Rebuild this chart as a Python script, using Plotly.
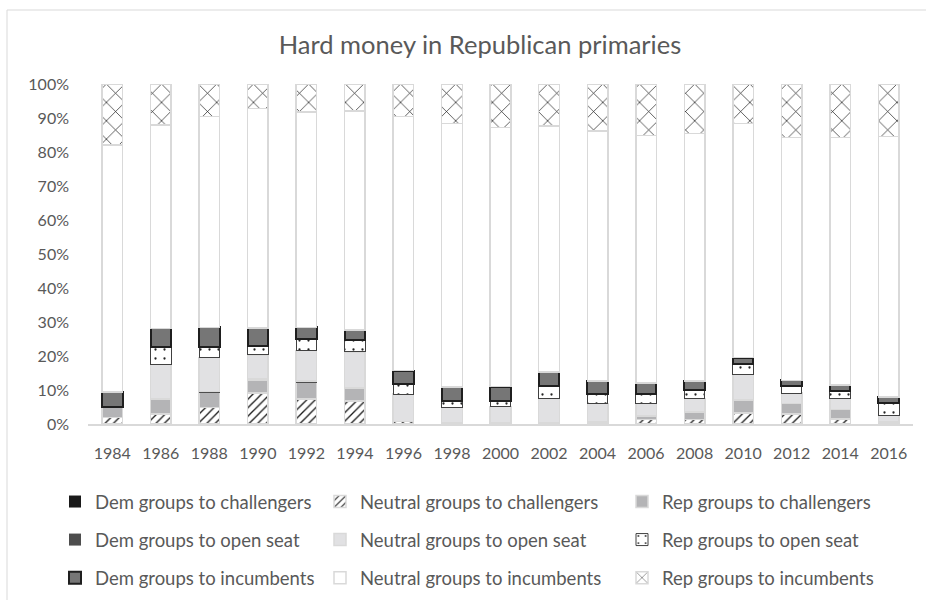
import plotly.graph_objects as go

years = ["1984", "1986", "1988", "1990", "1992", "1994", "1996", "1998", "2000",
         "2002", "2004", "2006", "2008", "2010", "2012", "2014", "2016"]

dem_chal = [0, 0, 0, 0, 0, 0, 0, 0, 0, 0, 0, 0, 0, 0, 0, 0, 0]
neu_chal = [1.9, 2.9, 4.8, 9.1, 7.3, 6.8, 0.8, 0.3, 0.3, 0.3, 0.6, 1.3, 1.3, 3.2, 3.0, 1.4, 0.6]
rep_chal = [3.1, 4.5, 4.4, 3.9, 5.0, 3.8, 0, 0, 0, 0, 0, 1.0, 2.3, 3.9, 3.1, 2.9, 0]
dem_open = [0, 0, 0.3, 0.3, 0.3, 0, 0, 0, 0, 0, 0, 0, 0, 0, 0, 0, 0]
neu_open = [0, 10.1, 10.0, 7.0, 9.0, 10.6, 8.0, 4.5, 4.8, 7.2, 5.4, 3.7, 3.9, 7.4, 3.0, 3.2, 2.0]
rep_open = [0, 5.2, 3.2, 2.5, 3.4, 3.4, 2.9, 1.9, 1.7, 3.7, 2.8, 2.8, 2.5, 3.2, 2.0, 2.2, 3.6]
dem_inc = [4.4, 5.4, 5.7, 5.4, 3.4, 3.0, 4.0, 4.2, 4.2, 4.1, 3.8, 3.3, 2.7, 1.8, 1.7, 1.7, 1.8]
neu_inc = [72.6, 59.8, 62.0, 64.6, 63.4, 64.5, 74.7, 77.5, 76.2, 72.4, 73.6, 72.7, 72.7, 68.9, 71.5, 72.9, 76.5]
rep_inc = [18.0, 12.1, 9.6, 7.2, 8.2, 7.9, 9.6, 11.6, 12.8, 12.3, 13.8, 15.2, 14.6, 11.6, 15.7, 15.7, 15.5]

FONT = "Lato"
TXT = "#595959"
EDGE = "#d9d9d9"

series = [
    ("Dem groups to challengers", dem_chal, dict(color="#1a1a1a", line=dict(width=0)), "legend"),
    ("Neutral groups to challengers", neu_chal,
     dict(color="white", line=dict(color=EDGE, width=1.5),
          pattern=dict(shape="/", fgcolor="#1a1a1a", size=6, solidity=0.22, fgopacity=1, fillmode="overlay")),
     "legend2"),
    ("Rep groups to challengers", rep_chal, dict(color="#b4b4b6", line=dict(color=EDGE, width=1.5)), "legend3"),
    ("Dem groups to open seat", dem_open, dict(color="#4d4d4d", line=dict(width=0)), "legend"),
    ("Neutral groups to open seat", neu_open, dict(color="#e1e1e3", line=dict(color=EDGE, width=1.5)), "legend2"),
    ("Rep groups to open seat", rep_open,
     dict(color="white", line=dict(color="#404040", width=1),
          pattern=dict(shape=".", fgcolor="#222222", size=9, solidity=0.05, fgopacity=1, fillmode="overlay")),
     "legend3"),
    ("Dem groups to incumbents", dem_inc, dict(color="#767676", line=dict(color="#1f1f1f", width=2)), "legend"),
    ("Neutral groups to incumbents", neu_inc, dict(color="white", line=dict(color=EDGE, width=1.5)), "legend2"),
    ("Rep groups to incumbents", rep_inc,
     dict(color="white", line=dict(color=EDGE, width=1.5),
          pattern=dict(shape="x", fgcolor="#111111", size=13, solidity=0.1, fgopacity=1, fillmode="overlay")),
     "legend3"),
]

fig = go.Figure()
for name, vals, marker, leg in series:
    fig.add_trace(go.Bar(x=years, y=vals, name=name, marker=marker, legend=leg,
                         legendgroup=name))

W, H = 926, 600
ML, MR, MT, MB = 88, 13, 84, 176
pw = W - ML - MR
ph = H - MT - MB

def px_x(x):
    return (x - ML) / pw

def px_y(y):
    return (H - MB - y) / ph

leg_common = dict(font=dict(family=FONT, size=18.5, color=TXT), bgcolor="rgba(0,0,0,0)",
                  orientation="v", xanchor="left", yanchor="top", tracegroupgap=11,
                  traceorder="grouped", itemclick=False)

fig.update_layout(
    width=W, height=H,
    margin=dict(l=ML, r=MR, t=MT, b=MB, autoexpand=False),
    paper_bgcolor="white", plot_bgcolor="white",
    barmode="stack", barnorm="percent", bargap=0.576,
    font=dict(family=FONT, color=TXT),
    title=dict(text="Hard money in Republican primaries", font=dict(family=FONT, size=25.5, color=TXT),
               x=px_x(480), xref="paper", xanchor="center", y=1 - 45 / H, yanchor="middle"),
    xaxis=dict(type="category", showline=True, linecolor=EDGE, linewidth=2, ticks="",
               tickfont=dict(family=FONT, size=16, color=TXT), ticklabelstandoff=14,
               showgrid=False, zeroline=False, automargin=False),
    yaxis=dict(range=[0, 100], dtick=10, ticksuffix="%", showgrid=False, zeroline=False,
               showline=False, ticks="", tickfont=dict(family=FONT, size=16, color=TXT),
               ticklabelstandoff=18, automargin=False),
    legend=dict(x=px_x(55), y=px_y(483), **leg_common),
    legend2=dict(x=px_x(320), y=px_y(483), **leg_common),
    legend3=dict(x=px_x(622), y=px_y(483), **leg_common),
    shapes=[dict(type="rect", xref="paper", yref="paper", x0=px_x(7), x1=px_x(940),
                 y0=px_y(620), y1=px_y(10), line=dict(color=EDGE, width=1), layer="below")],
)

fig.write_html("out.html", config={"displayModeBar": False},
               post_script="document.body.style.margin='0';document.body.style.padding='0';")
